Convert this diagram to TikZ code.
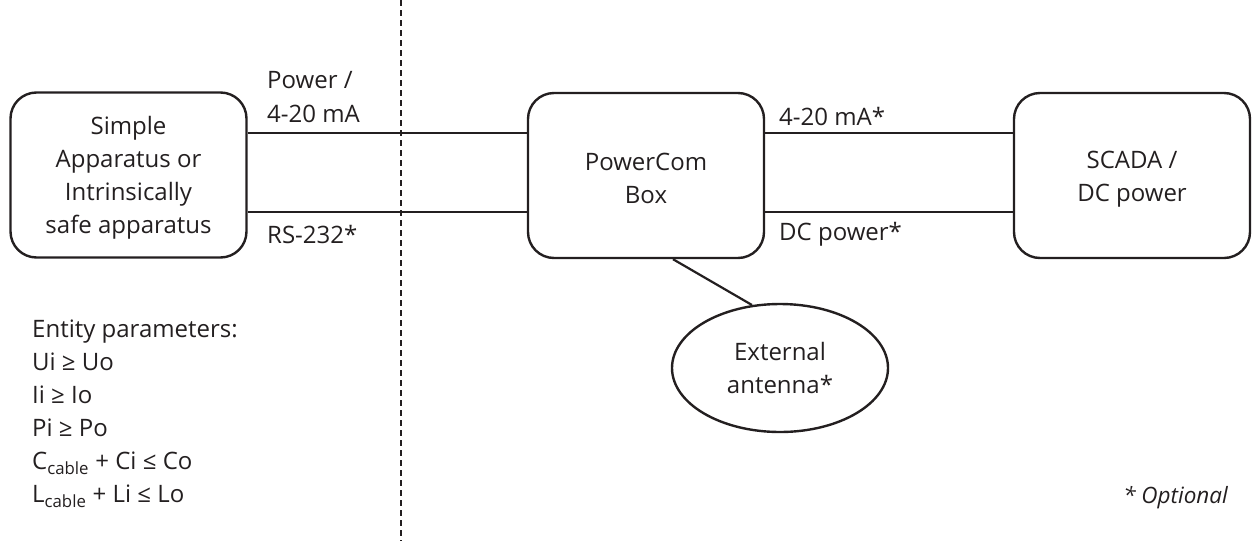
\documentclass[tikz,border=0pt]{standalone}
\usepackage{fontspec}
\setmainfont{Open Sans}
\usetikzlibrary{shapes.geometric}
\definecolor{ink}{HTML}{231F20}
\newcommand\topstrut{\rule{0pt}{24pt}}
\begin{document}
\begin{tikzpicture}[x=1pt,y=-1pt,
  every node/.style={text=ink,font=\fontsize{24}{33}\selectfont},
  box/.style={draw=ink,line width=2.4pt,rounded corners=26pt,minimum width=236pt,minimum height=165pt,align=center,inner sep=0pt},
  wire/.style={draw=ink,line width=2.2pt},
  lbl/.style={anchor=base west,inner sep=0pt}]
\useasboundingbox (0,0) rectangle (1252,541);
\draw[ink,line width=1.1pt,dash pattern=on 6pt off 4pt] (401,0) -- (401,541);
\node[box] (L) at (128.5,175) {\topstrut Simple\\Apparatus or\\Intrinsically\\safe apparatus};
\node[box] (P) at (646,175.5) {\topstrut PowerCom\\Box};
\node[box] (S) at (1132,175.5) {\topstrut SCADA /\\DC power};
\node[draw=ink,line width=2.4pt,ellipse,minimum width=216pt,minimum height=128pt,align=center,inner sep=0pt] (A) at (780,368) {External\\antenna*};
\draw[wire] ([yshift=42pt]L.east) -- ([yshift=42.5pt]P.west);
\draw[wire] ([yshift=-37pt]L.east) -- ([yshift=-36.5pt]P.west);
\draw[wire] ([yshift=42.5pt]P.east) -- ([yshift=42.5pt]S.west);
\draw[wire] ([yshift=-36.5pt]P.east) -- ([yshift=-36.5pt]S.west);
\draw[wire] ([xshift=27pt]P.south) -- (A.114);
\node[lbl] (t1) at (267,88) {Power /};
\node[lbl] (t2) at (267,122) {4-20 mA};
\node[lbl] (t3) at (267,243) {RS-232*};
\node[lbl] (t4) at (779,125) {4-20 mA*};
\node[lbl] (t5) at (779,240) {DC power*};
\node[anchor=north west,align=left,inner sep=0pt] (E) at (32,320) {Entity parameters:\\Ui ≥ Uo\\Ii ≥ Io\\Pi ≥ Po\\C\textsubscript{cable} + Ci ≤ Co\\L\textsubscript{cable} + Li ≤ Lo};
\node[anchor=base east,inner sep=0pt,font=\fontsize{22.5}{33}\selectfont\itshape] (O) at (1228,503) {* Optional};
\end{tikzpicture}
\end{document}
